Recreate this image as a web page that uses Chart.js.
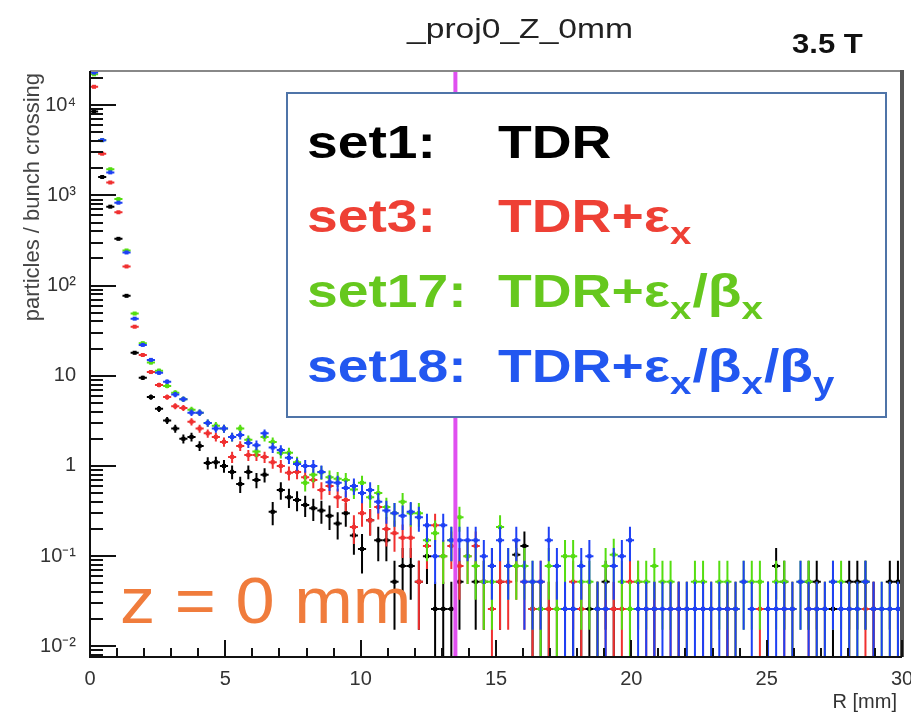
<!DOCTYPE html>
<html lang="en">
<head>
<meta charset="UTF-8" />
<title>_proj0_Z_0mm</title>
<script src="https://cdn.jsdelivr.net/npm/chart.js"></script>
<style>
  body { margin: 0; background: #fff; }
  #wrap { width: 911px; height: 718px; }
</style>
</head>
<body>
<div id="wrap"><canvas id="rChart"></canvas></div>
<script>
// R histogram: 100 bins of 0.3 mm from 0 to 30 mm
const binWidth = 0.3;
const binCenters = Array.from({ length: 100 }, (_, i) => +(binWidth * (i + 0.5)).toFixed(2));
const entryWeight = 0.026;   // particles / bunch crossing carried by one entry
const cutR = 13.5;

const set1 = [
  8500, 1600, 750, 330, 77, 18, 9.5, 5.8, 4.3, 3.2,
  2.6, 2.0, 2.1, 1.67, 1.08, 1.1, 1.0, 0.86, 0.63, 0.86,
  0.7, 0.8, 0.31, 0.54, 0.45, 0.42, 0.37, 0.34, 0.32, 0.28,
  0.23, 0.3, 0.17, 0.12, 0.25, 0.15, 0.15, 0.052, 0.078, 0.078,
  0.052, 0.1, 0.026, 0.026, 0.026, 0.052, 0, 0.052, 0.052, 0.078,
  0.052, 0, 0.104, 0.13, 0.026, 0.026, 0.026, 0.026, 0.026, 0.026,
  0.026, 0.026, 0.026, 0.052, 0.026, 0, 0.026, 0, 0, 0.026,
  0, 0, 0.026, 0, 0, 0, 0, 0, 0.026, 0,
  0, 0, 0, 0.026, 0.078, 0.052, 0, 0, 0.052, 0.052,
  0, 0.026, 0, 0.052, 0.052, 0.052, 0.026, 0, 0.052, 0.052
];
const set3 = [
  16000, 2900, 1390, 650, 163, 35, 17, 11, 7.9, 5.8,
  4.6, 4.4, 3.1, 2.6, 2.3, 2.1, 1.85, 1.26, 1.67, 1.32,
  1.32, 1.26, 1.1, 1.0, 0.84, 0.86, 0.75, 0.7, 0.54, 0.6,
  0.45, 0.42, 0.21, 0.3, 0.25, 0.35, 0.2, 0.18, 0.16, 0.16,
  0.052, 0.13, 0.22, 0.1, 0.13, 0.078, 0.1, 0.13, 0.052, 0.026,
  0.052, 0.052, 0.078, 0.052, 0.026, 0.052, 0.026, 0.026, 0.026, 0.052,
  0.026, 0, 0.026, 0.026, 0.026, 0.026, 0.052, 0.052, 0.026, 0.026,
  0, 0.026, 0.026, 0.026, 0, 0.026, 0.026, 0, 0.026, 0.026,
  0, 0, 0.026, 0.026, 0, 0.026, 0.026, 0, 0.026, 0.026,
  0.026, 0, 0, 0.026, 0, 0.026, 0.026, 0, 0, 0
];
const set17 = [
  22000, 4100, 1950, 910, 245, 49, 23, 14, 11.4, 7.7,
  6.5, 5.5, 4.2, 3.9, 3.0, 2.8, 2.6, 2.1, 2.6, 1.95,
  1.45, 2.1, 1.85, 1.4, 1.4, 1.1, 0.65, 0.8, 0.85, 0.75,
  0.72, 0.7, 0.55, 0.65, 0.45, 0.5, 0.35, 0.3, 0.4, 0.3,
  0.3, 0.15, 0.18, 0.1, 0.15, 0.27, 0.1, 0.078, 0.052, 0.052,
  0.21, 0.078, 0.078, 0.078, 0.052, 0.026, 0.078, 0.026, 0.1, 0.1,
  0.052, 0.052, 0.026, 0.078, 0.104, 0.052, 0.026, 0.052, 0.052, 0.078,
  0.052, 0.052, 0, 0.026, 0.052, 0.052, 0.026, 0.052, 0.052, 0.026,
  0.052, 0.052, 0.052, 0, 0.052, 0.052, 0.026, 0.052, 0.052, 0.026,
  0.026, 0.052, 0.052, 0.026, 0.026, 0.052, 0, 0.026, 0.026, 0.026
];
const set18 = [
  23000, 4100, 1800, 830, 233, 43, 22, 15, 10.8, 8.6,
  6.2, 5.5, 3.9, 3.9, 3.0, 2.6, 2.6, 2.1, 2.2, 1.8,
  1.7, 2.3, 1.6, 1.5, 1.23, 1.05, 1.0, 1.0, 0.86, 0.66,
  0.65, 0.57, 0.6, 0.5, 0.54, 0.4, 0.32, 0.3, 0.28, 0.31,
  0.27, 0.22, 0.1, 0.22, 0.15, 0.15, 0.15, 0.15, 0.1, 0.078,
  0.15, 0.078, 0.15, 0.052, 0.052, 0.052, 0.15, 0.078, 0.026, 0.026,
  0.078, 0.1, 0.026, 0.026, 0.078, 0.1, 0.15, 0.026, 0.026, 0.026,
  0.026, 0.026, 0.026, 0.026, 0.026, 0.026, 0.026, 0.026, 0.026, 0.026,
  0.052, 0.026, 0, 0.026, 0.026, 0.026, 0.026, 0.052, 0.026, 0.026,
  0.026, 0.052, 0.026, 0.026, 0.026, 0.052, 0.026, 0.026, 0.026, 0.026
];

const yTickValues = [0.01, 0.1, 1, 10, 100, 1000, 10000];
const yTickLabels = ['10\u207B\u00B2', '10\u207B\u00B9', '1', '10', '10\u00B2', '10\u00B3', '10\u2074'];

const toPoints = vals => vals
  .map((v, i) => ({ x: binCenters[i], y: v }))
  .filter(p => p.y > 0);

// legend rows: label, colour, then text pieces [text, isSubscript]
const legendRows = [
  ['set1:', '#000000', [['TDR', false]]],
  ['set3:', '#ee4035', [['TDR+\u03B5', false], ['x', true]]],
  ['set17:', '#66c81e', [['TDR+\u03B5', false], ['x', true], ['/\u03B2', false], ['x', true]]],
  ['set18:', '#2257f0', [['TDR+\u03B5', false], ['x', true], ['/\u03B2', false], ['x', true], ['/\u03B2', false], ['y', true]]]
];

const FONT = '"Liberation Sans", Arial, sans-serif';

const rootStyle = {
  id: 'rootStyle',
  afterDatasetsDraw(chart) {
    const { ctx, chartArea: a, scales: { x, y } } = chart;

    // error bars + markers
    ctx.save();
    ctx.beginPath();
    ctx.rect(a.left, a.top, a.right - a.left, a.bottom - a.top);
    ctx.clip();
    chart.data.datasets.forEach(ds => {
      ctx.strokeStyle = ds.borderColor;
      ctx.fillStyle = ds.borderColor;
      ctx.lineWidth = 2;
      ds.data.forEach(p => {
        const err = Math.sqrt(p.y * entryWeight);
        const px = x.getPixelForValue(p.x);
        const py = y.getPixelForValue(p.y);
        const x0 = x.getPixelForValue(p.x - binWidth / 2);
        const x1 = x.getPixelForValue(p.x + binWidth / 2);
        const yHi = y.getPixelForValue(p.y + err);
        const yLo = p.y - err > 0 ? Math.min(y.getPixelForValue(p.y - err), a.bottom) : a.bottom;
        ctx.beginPath();
        ctx.moveTo(x0, py); ctx.lineTo(x1, py);
        ctx.moveTo(px, yHi); ctx.lineTo(px, yLo);
        ctx.stroke();
        ctx.fillRect(px - 2, py - 2, 4, 4);
      });
    });

    // R cut line
    const cx = x.getPixelForValue(cutR);
    ctx.strokeStyle = '#e050f0';
    ctx.lineWidth = 4;
    ctx.beginPath();
    ctx.moveTo(cx, a.top); ctx.lineTo(cx, a.bottom);
    ctx.stroke();
    ctx.restore();

    // frame
    ctx.save();
    ctx.lineWidth = 2;
    ctx.strokeStyle = '#888';
    ctx.beginPath(); ctx.moveTo(a.left, a.top); ctx.lineTo(a.right, a.top); ctx.stroke();
    ctx.strokeStyle = '#555';
    ctx.lineWidth = 4;
    ctx.beginPath(); ctx.moveTo(a.right, a.top - 1); ctx.lineTo(a.right, a.bottom); ctx.stroke();
    ctx.strokeStyle = '#111';
    ctx.lineWidth = 2;
    ctx.beginPath();
    ctx.moveTo(a.left, a.top); ctx.lineTo(a.left, a.bottom); ctx.lineTo(a.right, a.bottom);
    ctx.stroke();

    // inward ticks: y log decades with minor 2..9, x every mm
    ctx.strokeStyle = '#111';
    ctx.lineWidth = 2;
    ctx.beginPath();
    for (let d = -3; d <= 5; d++) {
      for (let m = 1; m <= 9; m++) {
        const v = m * Math.pow(10, d);
        if (v < y.min || v > y.max) continue;
        const py = Math.round(y.getPixelForValue(v));
        ctx.moveTo(a.left, py);
        ctx.lineTo(a.left + (m === 1 ? 26 : 13), py);
      }
    }
    for (let r = 0; r <= 30; r++) {
      const px = Math.round(x.getPixelForValue(r));
      ctx.moveTo(px, a.bottom);
      ctx.lineTo(px, a.bottom - (r % 5 === 0 ? 17 : 9));
    }
    ctx.stroke();
    ctx.restore();

    // legend box
    ctx.save();
    ctx.fillStyle = '#fff';
    ctx.fillRect(287, 93, 599, 324);
    ctx.strokeStyle = '#4f74a8';
    ctx.lineWidth = 2;
    ctx.strokeRect(287, 93, 599, 324);
    const rowBase = [158, 232, 307, 382];
    const sx = 1.2;
    legendRows.forEach(([label, color, parts], i) => {
      ctx.fillStyle = color;
      ctx.save();
      ctx.translate(307, rowBase[i]);
      ctx.scale(sx, 1);
      ctx.font = 'bold 46px ' + FONT;
      ctx.fillText(label, 0, 0);
      ctx.restore();
      ctx.save();
      ctx.translate(498, rowBase[i]);
      ctx.scale(sx, 1);
      let cx2 = 0;
      parts.forEach(([t, sub]) => {
        ctx.font = (sub ? 'bold 32px ' : 'bold 46px ') + FONT;
        ctx.fillText(t, cx2, sub ? 12 : 0);
        cx2 += ctx.measureText(t).width + (sub ? 1 : 0);
      });
      ctx.restore();
    });
    ctx.restore();

    // annotations
    ctx.save();
    ctx.fillStyle = '#f07c3c';
    ctx.translate(120, 623);
    ctx.scale(1.1, 1);
    ctx.font = '64px ' + FONT;
    ctx.fillText('z = 0 mm', 0, 0);
    ctx.restore();

    ctx.save();
    ctx.fillStyle = '#222';
    ctx.translate(520, 38);
    ctx.scale(1.2, 1);
    ctx.font = '28px ' + FONT;
    ctx.textAlign = 'center';
    ctx.fillText('_proj0_Z_0mm', 0, 0);
    ctx.restore();

    ctx.save();
    ctx.fillStyle = '#111';
    ctx.translate(792, 53);
    ctx.scale(1.15, 1);
    ctx.font = 'bold 27px ' + FONT;
    ctx.fillText('3.5 T', 0, 0);
    ctx.restore();

    ctx.save();
    ctx.fillStyle = '#333';
    ctx.font = '20px ' + FONT;
    ctx.textAlign = 'right';
    ctx.fillText('R [mm]', 897, 708);
    ctx.translate(39, 73);
    ctx.rotate(-Math.PI / 2);
    ctx.font = '22px ' + FONT;
    ctx.fillStyle = '#444';
    ctx.fillText('particles / bunch crossing', 0, 0);
    ctx.restore();
  }
};

const series = [
  ['set1', set1, '#000000'],
  ['set3', set3, '#f03030'],
  ['set17', set17, '#55dd11'],
  ['set18', set18, '#1e40f5']
];

new Chart(document.getElementById('rChart'), {
  type: 'scatter',
  data: {
    datasets: series.map(([label, vals, color]) => ({
      label: label,
      data: toPoints(vals),
      borderColor: color,
      backgroundColor: color,
      pointRadius: 0,
      showLine: false
    }))
  },
  options: {
    responsive: true,
    maintainAspectRatio: false,
    animation: false,
    layout: { padding: { top: 71, right: 9, left: 0, bottom: 0 } },
    plugins: { legend: { display: false }, tooltip: { enabled: false } },
    scales: {
      x: {
        type: 'linear',
        min: 0,
        max: 30,
        grid: { display: false },
        border: { display: false },
        ticks: { stepSize: 5, color: '#333', padding: 2, font: { size: 20, family: FONT } },
        afterFit: s => { s.height = 61; s.paddingLeft = 0; s.paddingRight = 0; }
      },
      y: {
        type: 'logarithmic',
        min: 0.00762,
        max: 23950,
        grid: { display: false },
        border: { display: false },
        afterBuildTicks: s => { s.ticks = yTickValues.map(v => ({ value: v })); },
        ticks: {
          color: '#333',
          padding: 6,
          font: { size: 20, family: FONT },
          callback: v => {
            const i = yTickValues.findIndex(t => Math.abs(t - v) / t < 1e-6);
            return i >= 0 ? yTickLabels[i] : '';
          }
        },
        afterFit: s => { s.width = 90; s.paddingTop = 0; s.paddingBottom = 0; }
      }
    }
  },
  plugins: [rootStyle]
});
</script>
</body>
</html>
